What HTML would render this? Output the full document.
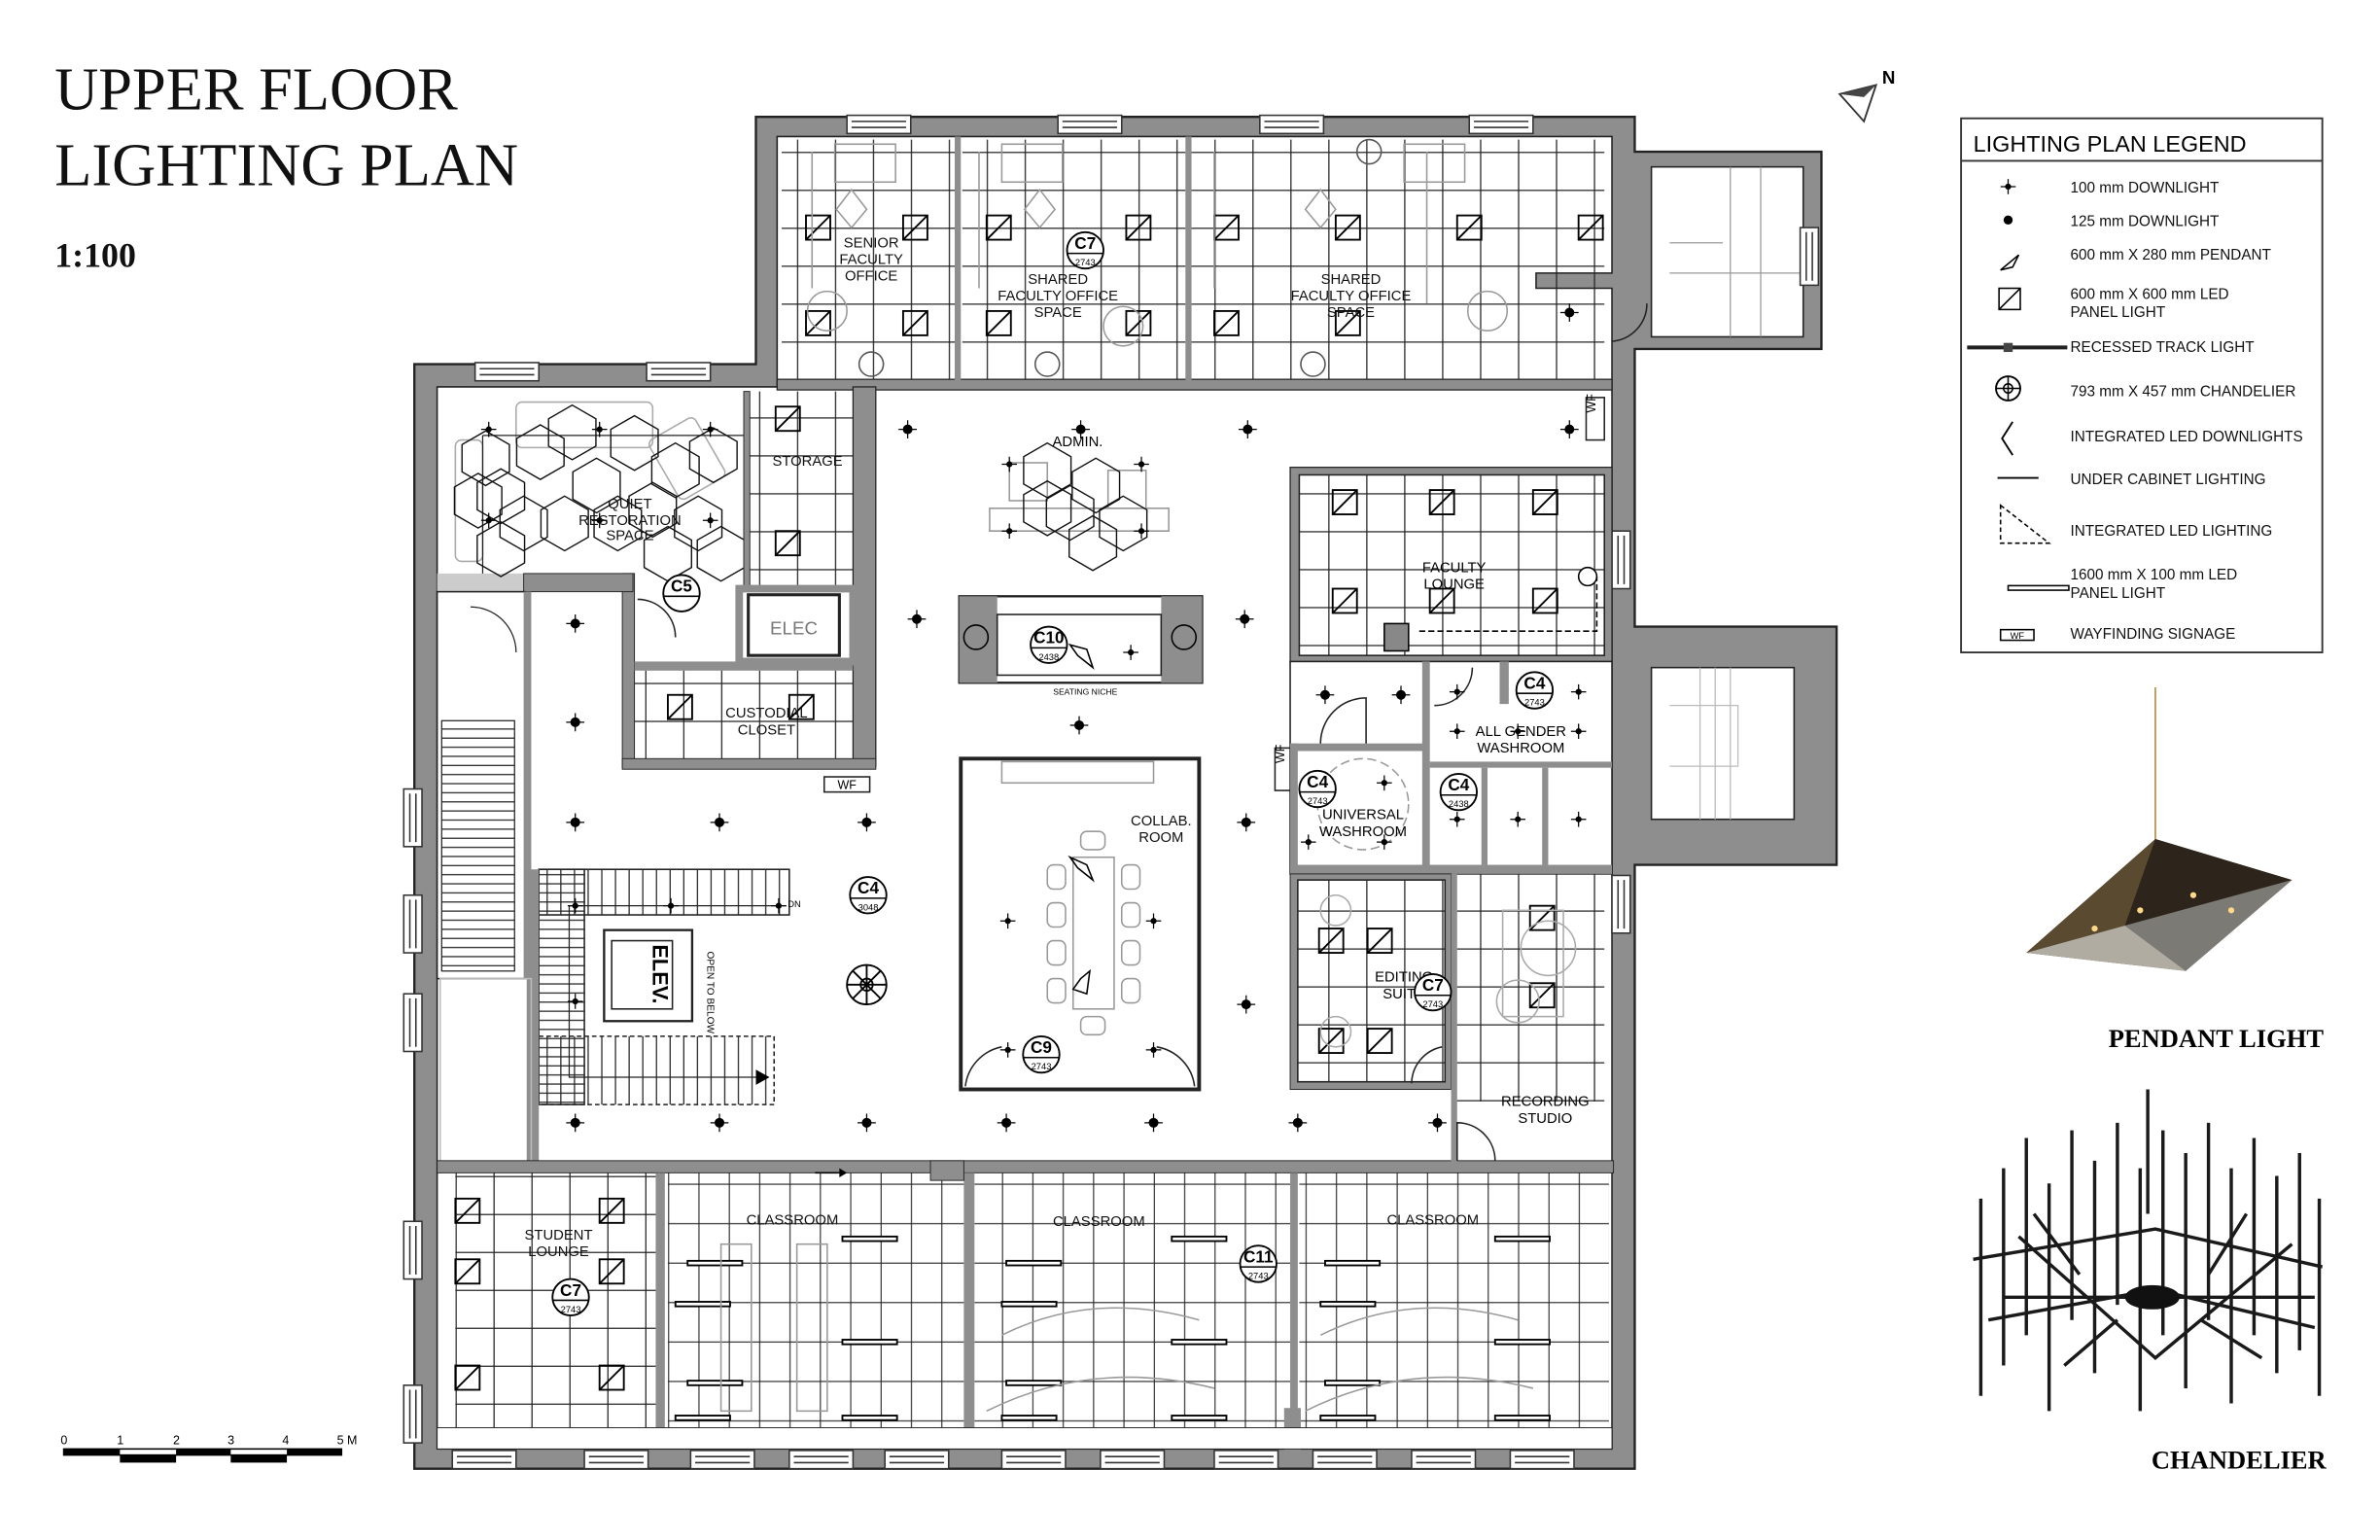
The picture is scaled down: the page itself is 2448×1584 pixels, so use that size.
<!DOCTYPE html>
<html><head><meta charset="utf-8"><style>
html,body{margin:0;padding:0;background:#fff;overflow:hidden}
svg{display:block}
text{font-family:"Liberation Sans",sans-serif}
</style></head><body>
<svg width="2448" height="1584" viewBox="0 0 1568 1015" preserveAspectRatio="none" xmlns="http://www.w3.org/2000/svg">
<defs>
<pattern id="g16" width="25" height="25" patternUnits="userSpaceOnUse"><path d="M0 0.5H25M0.5 0V25" stroke="#222" stroke-width="0.8" fill="none"/></pattern>
<pattern id="gc" width="20" height="26" patternUnits="userSpaceOnUse"><path d="M0 0.5H20M0.5 0V26" stroke="#222" stroke-width="0.7" fill="none"/></pattern>
<pattern id="st" width="10" height="6" patternUnits="userSpaceOnUse"><path d="M0 0.5H10" stroke="#222" stroke-width="0.8"/></pattern>
<pattern id="sv" width="9" height="10" patternUnits="userSpaceOnUse"><path d="M0.5 0V10" stroke="#222" stroke-width="0.8"/></pattern>
<g id="dl"><circle r="3.2" fill="#000"/><path d="M-6 0H6M0-6V6" stroke="#000" stroke-width="0.8"/></g>
<g id="ds"><circle r="2" fill="#000"/><path d="M-5 0H5M0-5V5" stroke="#000" stroke-width="0.8"/></g>
<path id="hx" d="M0-18L15.6-9L15.6 9L0 18L-15.6 9L-15.6-9Z" fill="none" stroke="#111" stroke-width="0.9"/>
<g id="pn"><rect width="16" height="16" fill="none" stroke="#000" stroke-width="1.2"/><path d="M0 16L16 0" stroke="#000" stroke-width="1.2"/></g>
<g id="lp"><rect width="36" height="3" fill="#fff" stroke="#000" stroke-width="1.2"/></g>
<g id="win"><rect x="0" y="-4" width="42" height="12" fill="#fff" stroke="#333" stroke-width="1"/><path d="M3 0H39M3 4H39" stroke="#333" stroke-width="1"/></g>
<g id="wv"><rect x="-4" y="0" width="12" height="38" fill="#fff" stroke="#333" stroke-width="1"/><path d="M0 3V35M4 3V35" stroke="#333" stroke-width="1"/></g>
<linearGradient id="pg" x1="0" y1="0" x2="1" y2="1"><stop offset="0" stop-color="#6b5a40"/><stop offset="0.5" stop-color="#2a2218"/><stop offset="1" stop-color="#b9b3a6"/></linearGradient>
</defs>

<text x="36" y="72" font-size="40" fill="#111" style="font-family:'Liberation Serif',serif">UPPER FLOOR</text>
<text x="36" y="122" font-size="40" fill="#111" style="font-family:'Liberation Serif',serif">LIGHTING PLAN</text>
<text x="36" y="176" font-size="23" font-weight="bold" fill="#111" style="font-family:'Liberation Serif',serif">1:100</text>

<path d="M1212 62L1236 56L1228 80Z" fill="#fff" stroke="#333" stroke-width="1.2"/><path d="M1212 62L1236 56L1228 64Z" fill="#444"/>
<text x="1240" y="55" font-size="12" font-weight="bold">N</text>

<path d="M498 77H1077V100H1200V230H1077V413H1210V570H1077V968H273V240H498Z" fill="#8e8e8e" stroke="#222" stroke-width="1.5"/>
<path d="M512 90H1062V180H1012V190H1062V955H288V255H512Z" fill="#fff" stroke="#222" stroke-width="1"/>
<rect x="1088" y="110" width="100" height="112" fill="#fff" stroke="#222"/>
<rect x="1088" y="440" width="94" height="100" fill="#fff" stroke="#222"/>
<path d="M1100 160H1135M1100 180H1188M1140 110V222M1160 110V222" stroke="#999" stroke-width="0.8"/>
<path d="M1100 465H1145V505H1100M1120 440V540M1130 440V540M1140 440V540" stroke="#bbb" stroke-width="0.8" fill="none"/>

<use href="#win" x="558" y="80"/><use href="#win" x="697" y="80"/><use href="#win" x="830" y="80"/><use href="#win" x="968" y="80"/>
<use href="#win" x="313" y="243"/><use href="#win" x="426" y="243"/>
<use href="#wv" x="270" y="520"/><use href="#wv" x="270" y="590"/><use href="#wv" x="270" y="655"/><use href="#wv" x="270" y="805"/><use href="#wv" x="270" y="913"/>
<use href="#wv" x="1066" y="350"/><use href="#wv" x="1066" y="577"/><use href="#wv" x="1190" y="150"/>
<use href="#win" x="298" y="960"/><use href="#win" x="385" y="960"/><use href="#win" x="455" y="960"/><use href="#win" x="520" y="960"/><use href="#win" x="583" y="960"/><use href="#win" x="660" y="960"/><use href="#win" x="725" y="960"/><use href="#win" x="800" y="960"/><use href="#win" x="865" y="960"/><use href="#win" x="930" y="960"/><use href="#win" x="995" y="960"/>

<rect x="515" y="92" width="115" height="160" fill="url(#g16)"/>
<rect x="634" y="92" width="147" height="160" fill="url(#g16)"/>
<rect x="785" y="92" width="272" height="160" fill="url(#g16)"/>
<rect x="512" y="250" width="550" height="7" fill="#8e8e8e" stroke="#222" stroke-width="0.8"/>
<rect x="629" y="90" width="4" height="162" fill="#8e8e8e"/><rect x="781" y="90" width="4" height="162" fill="#8e8e8e"/>
<use href="#pn" x="531" y="142"/><use href="#pn" x="595" y="142"/><use href="#pn" x="531" y="205"/><use href="#pn" x="595" y="205"/>
<use href="#pn" x="650" y="142"/><use href="#pn" x="650" y="205"/><use href="#pn" x="742" y="142"/><use href="#pn" x="742" y="205"/>
<use href="#pn" x="800" y="142"/><use href="#pn" x="800" y="205"/><use href="#pn" x="880" y="142"/><use href="#pn" x="880" y="205"/><use href="#pn" x="960" y="142"/><use href="#pn" x="1040" y="142"/>
<g fill="none" stroke="#999" stroke-width="1"><rect x="550" y="95" width="40" height="25"/><rect x="660" y="95" width="40" height="25"/><rect x="925" y="95" width="40" height="25"/><path d="M535 100V190M645 100V190M800 100V190M940 100V200"/><circle cx="545" cy="205" r="13"/><circle cx="740" cy="215" r="13"/><circle cx="980" cy="205" r="13"/><path d="M561 125L571 138L561 150L551 138Z"/><path d="M685 125L695 138L685 150L675 138Z"/><path d="M870 125L880 138L870 150L860 138Z"/></g>
<g stroke="#555" fill="none"><circle cx="574" cy="240" r="8"/><circle cx="690" cy="240" r="8"/><circle cx="865" cy="240" r="8"/><circle cx="902" cy="100" r="8"/></g>
<g font-size="9.5" text-anchor="middle" fill="#111"><text x="574" y="163">SENIOR</text><text x="574" y="174">FACULTY</text><text x="574" y="185">OFFICE</text>
<text x="697" y="187">SHARED</text><text x="697" y="198">FACULTY OFFICE</text><text x="697" y="209">SPACE</text>
<text x="890" y="187">SHARED</text><text x="890" y="198">FACULTY OFFICE</text><text x="890" y="209">SPACE</text></g>

<rect x="288" y="378" width="60" height="15" fill="#ccc"/>
<g fill="none" stroke="#aaa"><rect x="300" y="290" width="18" height="80" rx="4"/><rect x="340" y="265" width="90" height="30" rx="4"/><rect x="435" y="280" width="35" height="45" rx="4" transform="rotate(-30 452 302)"/></g>
<path d="M318 287H490M318 287V378" stroke="#222" stroke-width="0.8" fill="none"/>
<use href="#hx" x="320" y="302"/><use href="#hx" x="330" y="327"/><use href="#hx" x="356" y="298"/><use href="#hx" x="377" y="285"/><use href="#hx" x="393" y="320"/><use href="#hx" x="418" y="292"/><use href="#hx" x="445" y="310"/><use href="#hx" x="470" y="300"/><use href="#hx" x="430" y="336"/><use href="#hx" x="407" y="345"/><use href="#hx" x="345" y="345"/><use href="#hx" x="315" y="330"/><use href="#hx" x="460" y="345"/><use href="#hx" x="372" y="345"/><use href="#hx" x="330" y="362"/><use href="#hx" x="440" y="365"/><use href="#hx" x="475" y="365"/>
<use href="#ds" x="322" y="283"/><use href="#ds" x="395" y="283"/><use href="#ds" x="468" y="283"/><use href="#ds" x="322" y="343"/><use href="#ds" x="395" y="343"/><use href="#ds" x="468" y="343"/>
<g font-size="9.5" text-anchor="middle" fill="#111"><text x="415" y="335">QUIET</text><text x="415" y="346">RESTORATION</text><text x="415" y="356">SPACE</text></g>

<rect x="490" y="258" width="4" height="180" fill="#8e8e8e" stroke="#222" stroke-width="0.6"/>
<rect x="494" y="258" width="68" height="130" fill="url(#g16)"/>
<use href="#pn" x="511" y="268"/><use href="#pn" x="511" y="350"/>
<rect x="562" y="255" width="15" height="250" fill="#8e8e8e" stroke="#222" stroke-width="0.8"/>
<rect x="487" y="388" width="75" height="48" fill="#fff" stroke="#8e8e8e" stroke-width="5"/>
<rect x="493" y="392" width="60" height="40" fill="#fff" stroke="#222" stroke-width="2"/>
<text x="523" y="418" text-anchor="middle" font-size="12" fill="#777">ELEC</text>
<rect x="410" y="378" width="8" height="128" fill="#8e8e8e" stroke="#222" stroke-width="0.6"/>
<rect x="345" y="378" width="72" height="12" fill="#8e8e8e" stroke="#222" stroke-width="0.6"/>
<rect x="418" y="436" width="144" height="6" fill="#8e8e8e"/>
<rect x="418" y="442" width="144" height="58" fill="url(#g16)"/>
<rect x="410" y="500" width="167" height="7" fill="#8e8e8e" stroke="#222" stroke-width="0.6"/>
<use href="#pn" x="440" y="458"/><use href="#pn" x="520" y="458"/>
<g font-size="9.5" text-anchor="middle" fill="#111"><text x="532" y="307">STORAGE</text><text x="505" y="473">CUSTODIAL</text><text x="505" y="484">CLOSET</text></g>
<rect x="543" y="512" width="30" height="10" fill="#fff" stroke="#222"/><text x="558" y="520" text-anchor="middle" font-size="8">WF</text>
<rect x="1045" y="262" width="12" height="28" fill="#fff" stroke="#222"/><text x="1055" y="276" font-size="8" transform="rotate(-90 1051 276)">WF</text>
<rect x="840" y="493" width="12" height="28" fill="#fff" stroke="#222"/><text x="850" y="507" font-size="8" transform="rotate(-90 846 507)">WF</text>

<rect x="288" y="390" width="58" height="255" fill="#fff" stroke="#222" stroke-width="1"/>
<rect x="345" y="390" width="5" height="255" fill="#8e8e8e"/>
<rect x="291" y="475" width="48" height="165" fill="url(#st)" stroke="#222" stroke-width="0.8"/>
<path d="M310 400A30 30 0 0 1 340 430" fill="none" stroke="#222" stroke-width="0.8"/>

<rect x="355" y="573" width="165" height="30" fill="url(#sv)" stroke="#222" stroke-width="1"/>
<rect x="355" y="683" width="155" height="45" fill="url(#sv)" stroke="#222" stroke-dasharray="3 2"/>
<rect x="355" y="573" width="30" height="155" fill="url(#st)" stroke="#222"/>
<rect x="347" y="573" width="8" height="195" fill="#8e8e8e"/>
<rect x="398" y="613" width="58" height="60" fill="#fff" stroke="#222" stroke-width="1.5"/>
<rect x="403" y="620" width="40" height="45" fill="none" stroke="#222"/>
<text x="430" y="642" font-size="14" font-weight="bold" text-anchor="middle" transform="rotate(90 430 642)">ELEV.</text>
<text x="466" y="627" font-size="6.5" transform="rotate(90 466 627)">OPEN TO BELOW</text>
<text x="519" y="598" font-size="6">DN</text>
<path d="M375 597H518M375 597V710H500" fill="none" stroke="#222" stroke-width="0.8"/><path d="M498 705L507 710L498 715Z"/>
<use href="#ds" x="379" y="597"/><use href="#ds" x="442" y="597"/><use href="#ds" x="513" y="597"/><use href="#ds" x="379" y="660"/>

<rect x="290" y="645" width="60" height="125" fill="none" stroke="#bbb"/>
<rect x="288" y="765" width="775" height="8" fill="#8e8e8e" stroke="#222" stroke-width="0.6"/>
<rect x="300" y="773" width="132" height="168" fill="url(#g16)"/>
<rect x="432" y="773" width="6" height="170" fill="#8e8e8e"/>
<use href="#pn" x="300" y="790"/><use href="#pn" x="395" y="790"/><use href="#pn" x="395" y="830"/><use href="#pn" x="395" y="900"/><use href="#pn" x="300" y="900"/><use href="#pn" x="300" y="830"/>
<g font-size="9.5" text-anchor="middle" fill="#111"><text x="368" y="817">STUDENT</text><text x="368" y="828">LOUNGE</text></g>

<rect x="440" y="773" width="195" height="168" fill="url(#gc)"/>
<rect x="642" y="773" width="208" height="168" fill="url(#gc)"/>
<rect x="856" y="773" width="204" height="168" fill="url(#gc)"/>
<rect x="635" y="773" width="7" height="170" fill="#8e8e8e"/><rect x="850" y="773" width="5" height="170" fill="#8e8e8e"/>
<rect x="613" y="765" width="22" height="13" fill="#8e8e8e" stroke="#222" stroke-width="0.6"/>
<rect x="846" y="928" width="11" height="30" fill="#8e8e8e"/>
<rect x="288" y="941" width="774" height="14" fill="#fff" stroke="#222" stroke-width="0.6"/>
<use href="#lp" x="453" y="831"/><use href="#lp" x="555" y="815"/><use href="#lp" x="445" y="858"/><use href="#lp" x="555" y="883"/><use href="#lp" x="453" y="910"/><use href="#lp" x="555" y="933"/><use href="#lp" x="445" y="933"/>
<use href="#lp" x="663" y="831"/><use href="#lp" x="772" y="815"/><use href="#lp" x="660" y="858"/><use href="#lp" x="772" y="883"/><use href="#lp" x="663" y="910"/><use href="#lp" x="772" y="933"/><use href="#lp" x="660" y="933"/>
<use href="#lp" x="873" y="831"/><use href="#lp" x="985" y="815"/><use href="#lp" x="870" y="858"/><use href="#lp" x="985" y="883"/><use href="#lp" x="873" y="910"/><use href="#lp" x="985" y="933"/><use href="#lp" x="870" y="933"/>
<g fill="none" stroke="#999"><path d="M660 880Q720 850 790 870M650 930Q720 895 800 915M870 880Q930 850 1000 870M860 930Q930 895 1010 915"/><rect x="475" y="820" width="20" height="110"/><rect x="525" y="820" width="20" height="110"/></g>
<g font-size="9.5" text-anchor="middle" fill="#111"><text x="522" y="807">CLASSROOM</text><text x="724" y="808">CLASSROOM</text><text x="944" y="807">CLASSROOM</text></g>
<path d="M537 773H555" stroke="#000"/><path d="M553 770L558 773L553 776Z"/>

<rect x="633" y="500" width="157" height="218" fill="#fff" stroke="#222" stroke-width="2.5"/>
<rect x="707" y="565" width="27" height="100" fill="none" stroke="#999"/>
<g fill="none" stroke="#999"><rect x="690" y="570" width="12" height="16" rx="4"/><rect x="690" y="595" width="12" height="16" rx="4"/><rect x="690" y="620" width="12" height="16" rx="4"/><rect x="690" y="645" width="12" height="16" rx="4"/><rect x="739" y="570" width="12" height="16" rx="4"/><rect x="739" y="595" width="12" height="16" rx="4"/><rect x="739" y="620" width="12" height="16" rx="4"/><rect x="739" y="645" width="12" height="16" rx="4"/><rect x="712" y="548" width="16" height="12" rx="4"/><rect x="712" y="670" width="16" height="12" rx="4"/><rect x="660" y="502" width="100" height="14"/></g>
<path d="M705 565L716 570L720 580L710 572Z M712 645L718 640L716 655L707 652Z" fill="none" stroke="#000"/>
<use href="#ds" x="664" y="607"/><use href="#ds" x="760" y="607"/><use href="#ds" x="664" y="692"/><use href="#ds" x="760" y="692"/>
<path d="M636 716A30 30 0 0 1 660 690M787 716A30 30 0 0 0 762 690" fill="none" stroke="#222"/>
<g font-size="9.5" text-anchor="middle" fill="#111"><text x="765" y="544">COLLAB.</text><text x="765" y="555">ROOM</text></g>
<rect x="632" y="393" width="160" height="57" fill="#fff" stroke="#222" stroke-width="1.5"/>
<rect x="632" y="393" width="25" height="57" fill="#8e8e8e"/><rect x="765" y="393" width="27" height="57" fill="#8e8e8e"/>
<rect x="657" y="405" width="108" height="40" fill="none" stroke="#222"/>
<circle cx="643" cy="420" r="8" fill="none" stroke="#000"/><circle cx="780" cy="420" r="8" fill="none" stroke="#000"/>
<path d="M705 425L716 428L720 440L710 432Z" fill="none" stroke="#000"/>
<text x="715" y="458" font-size="5.5" text-anchor="middle">SEATING NICHE</text>
<use href="#ds" x="745" y="430"/>
<g fill="none" stroke="#999"><path d="M652 350H770V335H652Z"/><rect x="665" y="305" width="25" height="25"/><rect x="730" y="310" width="25" height="25"/></g>
<use href="#hx" x="690" y="310"/><use href="#hx" x="722" y="320"/><use href="#hx" x="705" y="338"/><use href="#hx" x="740" y="345"/><use href="#hx" x="720" y="358"/><use href="#hx" x="690" y="335"/>
<use href="#ds" x="665" y="306"/><use href="#ds" x="752" y="306"/><use href="#ds" x="665" y="350"/><use href="#ds" x="752" y="350"/>
<text x="710" y="294" font-size="9.5" text-anchor="middle">ADMIN.</text>

<rect x="850" y="308" width="212" height="130" fill="#8e8e8e" stroke="#222" stroke-width="0.8"/>
<rect x="856" y="313" width="201" height="119" fill="#fff" stroke="#222"/>
<rect x="856" y="313" width="201" height="119" fill="url(#g16)"/>
<use href="#pn" x="878" y="323"/><use href="#pn" x="942" y="323"/><use href="#pn" x="1010" y="323"/><use href="#pn" x="878" y="388"/><use href="#pn" x="942" y="388"/><use href="#pn" x="1010" y="388"/>
<rect x="912" y="411" width="16" height="18" fill="#888" stroke="#000"/><circle cx="1046" cy="380" r="6" fill="#fff" stroke="#000"/>
<path d="M935 416H1052V380" fill="none" stroke="#000" stroke-dasharray="4 2"/>
<g font-size="9.5" text-anchor="middle"><text x="958" y="377">FACULTY</text><text x="958" y="388">LOUNGE</text></g>
<rect x="850" y="436" width="212" height="140" fill="#fff" stroke="#222"/>
<rect x="937" y="436" width="5" height="140" fill="#8e8e8e"/>
<rect x="850" y="490" width="90" height="5" fill="#8e8e8e"/>
<rect x="850" y="490" width="5" height="88" fill="#8e8e8e"/>
<rect x="942" y="502" width="120" height="4" fill="#8e8e8e"/>
<rect x="976" y="506" width="4" height="64" fill="#8e8e8e"/><rect x="1016" y="506" width="4" height="64" fill="#8e8e8e"/>
<rect x="988" y="436" width="6" height="28" fill="#8e8e8e"/>
<rect x="850" y="570" width="212" height="6" fill="#8e8e8e"/>
<path d="M870 490A30 30 0 0 1 900 460V490" fill="none" stroke="#222"/>
<path d="M945 465A25 25 0 0 0 970 440" fill="none" stroke="#222"/>
<circle cx="898" cy="530" r="30" fill="none" stroke="#999" stroke-dasharray="6 3"/>
<use href="#dl" x="873" y="458"/><use href="#dl" x="923" y="458"/>
<use href="#ds" x="960" y="456"/><use href="#ds" x="1040" y="456"/><use href="#ds" x="960" y="482"/><use href="#ds" x="1000" y="482"/><use href="#ds" x="1040" y="482"/>
<use href="#ds" x="862" y="516"/><use href="#ds" x="912" y="516"/><use href="#ds" x="862" y="555"/><use href="#ds" x="912" y="555"/>
<use href="#ds" x="960" y="540"/><use href="#ds" x="1000" y="540"/><use href="#ds" x="1040" y="540"/>
<g font-size="9.5" text-anchor="middle"><text x="1002" y="485">ALL GENDER</text><text x="1002" y="496">WASHROOM</text><text x="898" y="540">UNIVERSAL</text><text x="898" y="551">WASHROOM</text></g>
<rect x="850" y="576" width="106" height="142" fill="#8e8e8e" stroke="#222" stroke-width="0.6"/>
<rect x="855" y="580" width="97" height="133" fill="#fff" stroke="#222"/>
<rect x="855" y="580" width="97" height="133" fill="url(#g16)"/>
<rect x="956" y="576" width="4" height="190" fill="#8e8e8e"/>
<rect x="960" y="576" width="97" height="150" fill="url(#g16)"/>
<use href="#pn" x="869" y="612"/><use href="#pn" x="901" y="612"/><use href="#pn" x="869" y="678"/><use href="#pn" x="901" y="678"/>
<use href="#pn" x="1008" y="597"/><use href="#pn" x="1008" y="648"/>
<g fill="none" stroke="#aaa"><circle cx="1020" cy="625" r="18"/><circle cx="1000" cy="660" r="14"/><rect x="990" y="600" width="40" height="70"/><circle cx="880" cy="600" r="10"/><circle cx="880" cy="680" r="10"/></g>
<path d="M930 714A25 25 0 0 1 950 690" fill="none" stroke="#222"/>
<path d="M960 765V740A25 25 0 0 1 985 765" fill="none" stroke="#222"/>
<g font-size="9.5" text-anchor="middle"><text x="925" y="647">EDITING</text><text x="925" y="658">SUITE</text><text x="1018" y="729">RECORDING</text><text x="1018" y="740">STUDIO</text></g>

<use href="#dl" x="598" y="283"/><use href="#dl" x="712" y="283"/><use href="#dl" x="822" y="283"/><use href="#dl" x="1034" y="206"/><use href="#dl" x="1034" y="283"/>
<use href="#dl" x="604" y="408"/><use href="#dl" x="820" y="408"/><use href="#dl" x="711" y="478"/>
<use href="#dl" x="379" y="411"/><use href="#dl" x="379" y="476"/>
<use href="#dl" x="379" y="542"/><use href="#dl" x="474" y="542"/><use href="#dl" x="571" y="542"/><use href="#dl" x="821" y="542"/>
<use href="#dl" x="821" y="662"/>
<use href="#dl" x="379" y="740"/><use href="#dl" x="474" y="740"/><use href="#dl" x="571" y="740"/><use href="#dl" x="663" y="740"/><use href="#dl" x="760" y="740"/><use href="#dl" x="855" y="740"/><use href="#dl" x="947" y="740"/>
<g stroke="#000" fill="none" stroke-width="1.2"><circle cx="571" cy="649" r="13"/><circle cx="571" cy="649" r="4"/><path d="M558 649H584M571 636V662M562 640L580 658M580 640L562 658"/></g>

<path d="M1062 225A25 25 0 0 0 1085 200" fill="none" stroke="#222"/>
<path d="M420 395A25 25 0 0 1 445 420" fill="none" stroke="#222"/>

<g font-weight="bold" text-anchor="middle">
<g transform="translate(715,165)"><circle r="12" fill="#fff" stroke="#000" stroke-width="1.2"/><path d="M-12 2H12" stroke="#000"/><text y="-1" font-size="11">C7</text><text y="10" font-size="6" font-weight="normal">2743</text></g>
<g transform="translate(449,391)"><circle r="12" fill="#fff" stroke="#000" stroke-width="1.2"/><path d="M-12 2H12" stroke="#000"/><text y="-1" font-size="11">C5</text></g>
<g transform="translate(691,425)"><circle r="12" fill="#fff" stroke="#000" stroke-width="1.2"/><path d="M-12 2H12" stroke="#000"/><text y="-1" font-size="11">C10</text><text y="10" font-size="6" font-weight="normal">2438</text></g>
<g transform="translate(572,590)"><circle r="12" fill="#fff" stroke="#000" stroke-width="1.2"/><path d="M-12 2H12" stroke="#000"/><text y="-1" font-size="11">C4</text><text y="10" font-size="6" font-weight="normal">3048</text></g>
<g transform="translate(686,695)"><circle r="12" fill="#fff" stroke="#000" stroke-width="1.2"/><path d="M-12 2H12" stroke="#000"/><text y="-1" font-size="11">C9</text><text y="10" font-size="6" font-weight="normal">2743</text></g>
<g transform="translate(1011,455)"><circle r="12" fill="#fff" stroke="#000" stroke-width="1.2"/><path d="M-12 2H12" stroke="#000"/><text y="-1" font-size="11">C4</text><text y="10" font-size="6" font-weight="normal">2743</text></g>
<g transform="translate(868,520)"><circle r="12" fill="#fff" stroke="#000" stroke-width="1.2"/><path d="M-12 2H12" stroke="#000"/><text y="-1" font-size="11">C4</text><text y="10" font-size="6" font-weight="normal">2743</text></g>
<g transform="translate(961,522)"><circle r="12" fill="#fff" stroke="#000" stroke-width="1.2"/><path d="M-12 2H12" stroke="#000"/><text y="-1" font-size="11">C4</text><text y="10" font-size="6" font-weight="normal">2438</text></g>
<g transform="translate(944,654)"><circle r="12" fill="#fff" stroke="#000" stroke-width="1.2"/><path d="M-12 2H12" stroke="#000"/><text y="-1" font-size="11">C7</text><text y="10" font-size="6" font-weight="normal">2743</text></g>
<g transform="translate(376,855)"><circle r="12" fill="#fff" stroke="#000" stroke-width="1.2"/><path d="M-12 2H12" stroke="#000"/><text y="-1" font-size="11">C7</text><text y="10" font-size="6" font-weight="normal">2743</text></g>
<g transform="translate(829,833)"><circle r="12" fill="#fff" stroke="#000" stroke-width="1.2"/><path d="M-12 2H12" stroke="#000"/><text y="-1" font-size="11">C11</text><text y="10" font-size="6" font-weight="normal">2743</text></g>
</g>

<g font-size="8"><text x="40" y="952">0</text><text x="77" y="952">1</text><text x="114" y="952">2</text><text x="150" y="952">3</text><text x="186" y="952">4</text><text x="222" y="952">5 M</text></g>
<rect x="42" y="955" width="183" height="4" fill="none" stroke="#000"/>
<rect x="42" y="955" width="37" height="4" fill="#000"/><rect x="79" y="959" width="37" height="5" fill="#000"/><rect x="116" y="955" width="36" height="4" fill="#000"/><rect x="152" y="959" width="37" height="5" fill="#000"/><rect x="189" y="955" width="36" height="4" fill="#000"/>

<rect x="1292" y="78" width="238" height="352" fill="#fff" stroke="#333" stroke-width="1.2"/>
<path d="M1292 106H1530" stroke="#333" stroke-width="1.2"/>
<text x="1300" y="100" font-size="15">LIGHTING PLAN LEGEND</text>
<g font-size="9.8" fill="#111">
<text x="1364" y="127">100 mm DOWNLIGHT</text>
<text x="1364" y="149">125 mm DOWNLIGHT</text>
<text x="1364" y="171">600 mm X 280 mm  PENDANT</text>
<text x="1364" y="197">600 mm X 600 mm LED</text><text x="1364" y="209">PANEL LIGHT</text>
<text x="1364" y="232">RECESSED TRACK LIGHT</text>
<text x="1364" y="261">793 mm X 457 mm CHANDELIER</text>
<text x="1364" y="291">INTEGRATED LED DOWNLIGHTS</text>
<text x="1364" y="319">UNDER CABINET LIGHTING</text>
<text x="1364" y="353">INTEGRATED LED LIGHTING</text>
<text x="1364" y="382">1600 mm X 100 mm LED</text><text x="1364" y="394">PANEL LIGHT</text>
<text x="1364" y="421">WAYFINDING SIGNAGE</text>
</g>
<use href="#ds" x="1323" y="123"/><circle cx="1323" cy="145" r="3" fill="#000"/>
<path d="M1318 178L1330 168L1326 176Z" fill="none" stroke="#000"/>
<rect x="1317" y="190" width="14" height="14" fill="none" stroke="#000"/><path d="M1317 204L1331 190" stroke="#000"/>
<path d="M1296 229H1362" stroke="#222" stroke-width="2.5"/><rect x="1320" y="226" width="6" height="6" fill="#444"/>
<circle cx="1323" cy="256" r="8" fill="none" stroke="#000" stroke-width="1.2"/><circle cx="1323" cy="256" r="3" fill="none" stroke="#000"/><path d="M1315 256H1331M1323 248V264" stroke="#000"/>
<path d="M1326 278L1319 289L1326 300" fill="none" stroke="#000" stroke-width="1.2"/>
<path d="M1316 315H1343" stroke="#000" stroke-width="1.2"/>
<path d="M1318 333L1350 358H1318Z" fill="none" stroke="#000" stroke-dasharray="3 2"/>
<rect x="1323" y="386" width="40" height="3" fill="#fff" stroke="#000"/>
<rect x="1318" y="415" width="22" height="7" fill="#fff" stroke="#000"/><text x="1329" y="421" font-size="6" text-anchor="middle">WF</text>

<path d="M1420 453V555" stroke="#b89a5a" stroke-width="1.2"/>
<polygon points="1335,628 1420,553 1510,580 1440,640" fill="url(#pg)"/>
<polygon points="1335,628 1420,553 1400,610" fill="#5a4a30"/>
<polygon points="1400,610 1420,553 1510,580" fill="#2d251b"/>
<polygon points="1335,628 1400,610 1440,640" fill="#b0aca2"/>
<polygon points="1400,610 1510,580 1440,640" fill="#7c7a74"/>
<g fill="#ffd98a"><circle cx="1410" cy="600" r="2"/><circle cx="1445" cy="590" r="2"/><circle cx="1380" cy="612" r="2"/><circle cx="1470" cy="600" r="2"/></g>
<text x="1460" y="690" font-size="17" font-weight="bold" text-anchor="middle" style="font-family:'Liberation Serif',serif">PENDANT LIGHT</text>

<g stroke="#1a1a1a" stroke-width="2.2" fill="none">
<path d="M1415 718V800"/>
<path d="M1305 790V920M1320 770V900M1335 750V880M1350 780V930M1365 745V870M1380 765V905M1395 740V860M1410 770V930M1425 745V880M1440 760V915M1455 740V870M1470 770V925M1485 750V880M1500 775V905M1515 760V890M1528 790V920"/>
<path d="M1300 830L1420 810L1530 835M1310 870L1420 850L1525 875M1330 815L1420 895L1510 820M1320 855H1525"/>
<path d="M1340 800L1370 840M1480 800L1455 840M1360 900L1395 870M1490 895L1450 870"/>
</g>
<ellipse cx="1418" cy="855" rx="18" ry="8" fill="#111"/>
<text x="1475" y="968" font-size="17" font-weight="bold" text-anchor="middle" style="font-family:'Liberation Serif',serif">CHANDELIER</text>
</svg>
</body></html>
